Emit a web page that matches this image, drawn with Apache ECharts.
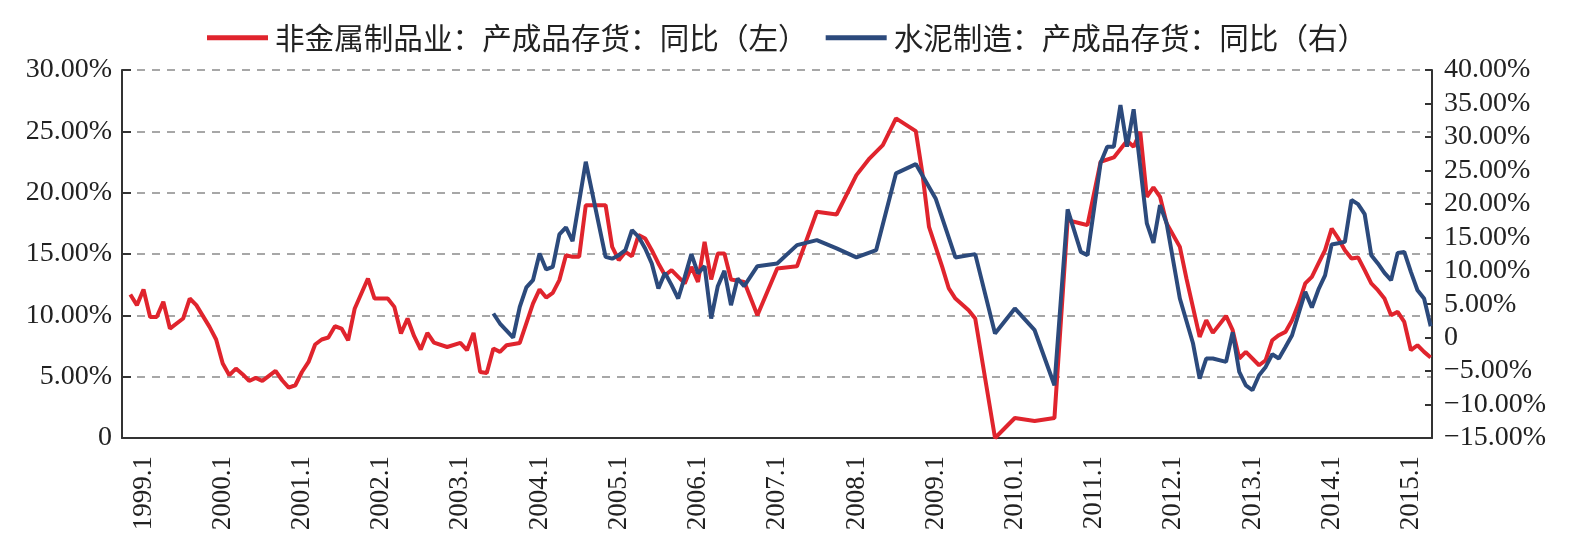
<!DOCTYPE html>
<html>
<head>
<meta charset="utf-8">
<script src="https://cdn.jsdelivr.net/npm/echarts@6/dist/echarts.min.js"></script>
<style>
html,body{margin:0;padding:0;background:#fff;}
#chart{width:1586px;height:550px;}
</style>
</head>
<body>
<div id="chart"></div>
<script>
// Month categories (monthly, first plotted month 1998.11 to 2015.4)
const months = [];
(function(){ let y = 1998, m = 11; while (!(y === 2015 && m === 5)) { months.push(y + '.' + m); m++; if (m > 12) { m = 1; y++; } } })();

const xTickLabels = ['1999.1','2000.1','2001.1','2002.1','2003.1','2004.1','2005.1','2006.1','2007.1','2008.1','2009.1','2010.1','2011.1','2012.1','2013.1','2014.1','2015.1'];
const leftTicks = [0, 5, 10, 15, 20, 25, 30];
const rightTicks = [-15, -10, -5, 0, 5, 10, 15, 20, 25, 30, 35, 40];

const seriesNames = ['非金属制品业：产成品存货：同比（左）', '水泥制造：产成品存货：同比（右）'];

// 非金属制品业：产成品存货：同比 (%), left axis — [month, value]
const nonMetal = [
 ['1998.11',11.7],['1998.12',10.83],['1999.1',12.11],['1999.2',9.87],['1999.3',9.87],['1999.4',11.10],['1999.5',8.92],
 ['1999.7',9.74],['1999.8',11.37],['1999.9',10.83],['1999.11',9.06],['1999.12',8.03],['2000.1',6.07],['2000.2',5.12],
 ['2000.3',5.66],['2000.4',5.20],['2000.5',4.65],['2000.6',4.90],['2000.7',4.65],['2000.9',5.47],['2000.10',4.71],
 ['2000.11',4.11],['2000.12',4.30],['2001.1',5.38],['2001.2',6.20],['2001.3',7.62],['2001.4',8.03],['2001.5',8.19],
 ['2001.6',9.11],['2001.7',8.92],['2001.8',7.97],['2001.9',10.56],['2001.11',13.0],['2001.12',11.37],['2002.2',11.37],
 ['2002.3',10.69],['2002.4',8.52],['2002.5',9.74],['2002.6',8.30],['2002.7',7.21],['2002.8',8.57],['2002.9',7.78],
 ['2002.11',7.42],['2003.1',7.75],['2003.2',7.16],['2003.3',8.57],['2003.4',5.38],['2003.5',5.30],['2003.6',7.29],
 ['2003.7',7.02],['2003.8',7.56],['2003.10',7.75],['2003.12',10.96],['2004.1',12.11],['2004.2',11.45],['2004.3',11.83],
 ['2004.4',12.87],['2004.5',14.9],['2004.6',14.77],['2004.7',14.77],['2004.8',18.98],['2004.11',18.98],['2004.12',15.58],
 ['2005.1',14.5],['2005.2',15.17],['2005.3',14.82],['2005.4',16.54],['2005.5',16.27],['2005.6',15.31],['2005.7',14.23],
 ['2005.8',13.27],['2005.9',13.68],['2005.10',13.14],['2005.11',12.6],['2005.12',13.95],['2006.1',12.73],['2006.2',15.99],
 ['2006.3',12.92],['2006.4',15.04],['2006.5',15.04],['2006.6',12.92],['2006.8',12.73],['2006.10',10.01],['2007.1',13.82],
 ['2007.4',14.0],['2007.7',18.44],['2007.10',18.22],['2008.1',21.43],['2008.3',22.8],['2008.5',23.88],['2008.7',26.06],
 ['2008.10',25.02],['2008.11',21.57],['2008.12',17.21],['2009.2',13.95],['2009.3',12.19],['2009.4',11.37],['2009.6',10.42],
 ['2009.7',9.74],['2009.10',0.0],['2010.1',1.63],['2010.4',1.39],['2010.7',1.63],['2010.9',17.76],['2010.11',17.49],
 ['2010.12',17.35],['2011.2',22.52],['2011.4',22.87],['2011.6',24.23],['2011.7',23.74],['2011.8',24.97],['2011.9',19.66],
 ['2011.10',20.43],['2011.11',19.66],['2011.12',17.49],['2012.2',15.58],['2012.3',13.0],['2012.5',8.24],['2012.6',9.60],
 ['2012.7',8.57],['2012.9',9.95],['2012.10',8.79],['2012.11',6.48],['2012.12',7.02],['2013.2',5.93],['2013.3',6.34],
 ['2013.4',7.97],['2013.5',8.38],['2013.6',8.65],['2013.7',9.6],['2013.8',10.96],['2013.9',12.6],['2013.10',13.14],
 ['2013.11',14.23],['2013.12',15.31],['2014.1',17.08],['2014.2',16.27],['2014.3',15.31],['2014.4',14.64],['2014.5',14.72],
 ['2014.6',13.68],['2014.7',12.6],['2014.8',12.05],['2014.9',11.37],['2014.10',10.01],['2014.11',10.28],['2014.12',9.46],
 ['2015.1',7.16],['2015.2',7.56],['2015.3',7.02],['2015.4',6.56]
];

// 水泥制造：产成品存货：同比 (%), right axis — [month, value]
const cement = [
 ['2003.6',3.61],['2003.7',2.11],['2003.9',0.02],['2003.10',4.6],['2003.11',7.5],['2003.12',8.59],['2004.1',12.58],
 ['2004.2',10.19],['2004.3',10.58],['2004.4',15.43],['2004.5',16.47],['2004.6',14.42],['2004.8',26.29],['2004.11',12.08],
 ['2004.12',11.8],['2005.1',12.33],['2005.2',13.08],['2005.3',16.07],['2005.4',15.07],['2005.5',13.33],['2005.6',11.09],
 ['2005.7',7.35],['2005.8',9.68],['2005.9',7.84],['2005.10',5.85],['2005.11',9.08],['2005.12',12.48],['2006.1',9.59],
 ['2006.2',10.68],['2006.3',2.86],['2006.4',7.69],['2006.5',9.98],['2006.6',4.85],['2006.7',8.84],['2006.8',7.69],
 ['2006.10',10.68],['2007.1',11.09],['2007.4',13.83],['2007.7',14.57],['2007.10',13.33],['2008.1',11.99],['2008.4',13.08],
 ['2008.7',24.55],['2008.10',25.94],['2009.1',20.81],['2009.4',11.99],['2009.7',12.48],['2009.10',0.62],['2010.1',4.36],
 ['2010.4',1.11],['2010.7',-7.12],['2010.9',19.17],['2010.11',12.82],['2010.12',12.33],['2011.2',26.14],['2011.3',28.53],
 ['2011.4',28.53],['2011.5',34.77],['2011.6',28.53],['2011.7',34.12],['2011.9',17.07],['2011.10',14.17],['2011.11',19.81],
 ['2011.12',17.07],['2012.2',5.85],['2012.4',-0.88],['2012.5',-6.11],['2012.6',-3.12],['2012.7',-3.12],['2012.9',-3.63],
 ['2012.10',0.8],['2012.11',-5.13],['2012.12',-7.12],['2013.1',-7.86],['2013.2',-5.62],['2013.3',-4.38],['2013.4',-2.48],
 ['2013.5',-3.12],['2013.6',-1.39],['2013.7',0.36],['2013.8',3.61],['2013.9',6.84],['2013.10',4.51],['2013.11',7.2],
 ['2013.12',9.3],['2014.1',13.93],['2014.2',14.1],['2014.3',14.32],['2014.4',20.56],['2014.5',19.96],['2014.6',18.46],
 ['2014.7',12.33],['2014.8',11.09],['2014.9',9.68],['2014.10',8.59],['2014.11',12.67],['2014.12',12.82],['2015.1',9.83],
 ['2015.2',7.09],['2015.3',5.85],['2015.4',1.71]
];

const toXY = arr => arr.map(p => [months.indexOf(p[0]), p[1]]);
const tickIdx = xTickLabels.map(l => months.indexOf(l));
const pct = v => v === 0 ? '0' : (v < 0 ? '\u2212' + Math.abs(v).toFixed(2) : v.toFixed(2)) + '%';

const serif = 'Liberation Serif, Times New Roman, serif';
const chart = echarts.init(document.getElementById('chart'), null, {renderer: 'canvas'});
chart.setOption({
  animation: false,
  backgroundColor: '#fff',
  legend: {
    left: 202, top: 18,
    icon: 'rect',
    itemWidth: 61, itemHeight: 5, itemGap: 18,
    textStyle: {fontFamily: 'Noto Sans CJK SC', fontSize: 29.6, color: '#222', padding: [0, 0, 0, 2]},
    data: seriesNames
  },
  grid: {left: 122, right: 154, top: 70, bottom: 112, containLabel: false, outerBoundsMode: 'none'},
  xAxis: {
    type: 'value',
    min: -1.26, max: 197.2,
    axisLine: {show: true, onZero: false, lineStyle: {color: '#333', width: 2}},
    axisTick: {show: false},
    splitLine: {show: false},
    axisLabel: {
      customValues: tickIdx,
      rotate: 90, margin: 18,
      fontFamily: serif, fontSize: 27, color: '#222',
      formatter: v => months[Math.round(v)]
    }
  },
  yAxis: [
    {
      type: 'value', position: 'left', min: 0, max: 30, interval: 5,
      axisLine: {show: true, onZero: false, lineStyle: {color: '#333', width: 2}},
      axisTick: {show: true, inside: true, length: 9, lineStyle: {color: '#333', width: 2}},
      splitLine: {show: true, lineStyle: {color: '#8a8a8a', width: 1.5, type: [8, 7]}},
      axisLabel: {margin: 10, fontFamily: serif, fontSize: 28, color: '#222', formatter: pct}
    },
    {
      type: 'value', position: 'right', min: -15, max: 40, interval: 5,
      axisLine: {show: true, onZero: false, lineStyle: {color: '#333', width: 2}},
      axisTick: {show: true, inside: true, length: 7, lineStyle: {color: '#333', width: 2}},
      splitLine: {show: false},
      axisLabel: {margin: 12, fontFamily: serif, fontSize: 28, color: '#222', formatter: pct}
    }
  ],
  series: [
    {
      name: seriesNames[0], type: 'line', yAxisIndex: 0,
      data: toXY(nonMetal), showSymbol: false, symbol: 'none', connectNulls: true,
      lineStyle: {color: '#E0242D', width: 4}, itemStyle: {color: '#E0242D'}, z: 2
    },
    {
      name: seriesNames[1], type: 'line', yAxisIndex: 1,
      data: toXY(cement), showSymbol: false, symbol: 'none', connectNulls: true,
      lineStyle: {color: '#2C4A7C', width: 4}, itemStyle: {color: '#2C4A7C'}, z: 3
    }
  ]
});
</script>
</body>
</html>
